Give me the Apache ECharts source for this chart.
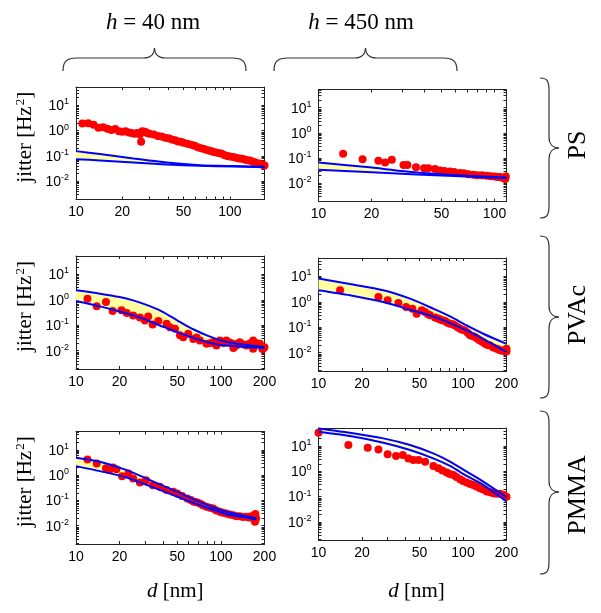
<!DOCTYPE html>
<html>
<head>
<meta charset="utf-8">
<title>jitter vs d</title>
<script src="https://cdn.jsdelivr.net/npm/echarts@6.0.0/dist/echarts.min.js"></script>
<style>
html,body{margin:0;padding:0;background:#ffffff;}
#chart{width:601px;height:613px;}
</style>
</head>
<body>
<div id="chart"></div>
<script>
// ---- tick values ----
const xTickValues = [10,20,30,40,50,60,70,80,90,100,200];
const xLabelValues = [10,20,50,100,200];
const yTickValues = [0.002,0.003,0.004,0.005,0.006,0.007,0.008,0.009,0.01,0.02,0.03,0.04,0.05,0.06,0.07,0.08,0.09,0.1,0.2,0.3,0.4,0.5,0.6,0.7,0.8,0.9,1,2,3,4,5,6,7,8,9,10,20,30,40,50];
const yLabelValues = [0.01,0.1,1,10];

// ---- PS, h = 40 nm ----
const p1DotX = [11,12,13,14,15,16,17,18,19,20,21,22,23,24,25,26,26.5,27,28,29,30,32,34,36,38,40,42,44,46,48,50,53,56,59,62,65,68,71,74,77,80,84,88,92,96,100,105,110,115,120,125,130,135,140,145,150,155,160,165,168];
const p1DotY = [1.9,1.95,1.7,1.3,1.35,1.2,1.05,1.15,0.95,0.9,0.95,0.85,0.8,0.75,0.8,0.7,0.36,0.95,0.9,0.8,0.75,0.7,0.62,0.58,0.52,0.5,0.45,0.42,0.37,0.36,0.33,0.3,0.28,0.25,0.22,0.2,0.19,0.17,0.16,0.15,0.14,0.13,0.125,0.11,0.1,0.095,0.09,0.085,0.08,0.077,0.072,0.068,0.066,0.06,0.056,0.052,0.05,0.047,0.044,0.042];
const p1BandX = [10,14.3,23.6,38.8,63.8,105,168];
const p1UpY = [0.155,0.119,0.080,0.055,0.0433,0.0397,0.0373];
const p1LowY = [0.0748,0.066,0.055,0.046,0.0407,0.0384,0.036];

// ---- PS, h = 450 nm ----
const p2DotX = [13.8,17.8,21.9,23.9,26.1,30.4,32,35.8,39.8,42.1,45.9,49,52,55.8,59,63.7,67,71,75.9,80,85,90.4,95,100,104,107,110,113,115,116];
const p2DotY = [0.148,0.091,0.078,0.067,0.086,0.054,0.054,0.043,0.040,0.040,0.037,0.032,0.031,0.0295,0.028,0.0256,0.025,0.023,0.0219,0.021,0.021,0.020,0.019,0.0185,0.018,0.0178,0.017,0.016,0.015,0.0185];
const p2BandX = [10,18.8,36.1,69.5,117];
const p2UpY = [0.067,0.044,0.0271,0.020,0.0172];
const p2LowY = [0.0345,0.0279,0.0225,0.0188,0.0161];

// ---- PVAc, h = 40 nm ----
const p3DotX = [12,13.9,16.1,17.9,20.6,22.4,24.8,27.6,29.9,31.5,33.8,37,42.2,44.5,48.2,52.2,55,59.5,64.5,71.6,79.6,88.5,93.3,98.4,104,109,115,122,128,135,142,150,158,167,175,186,193,200,122,167,195,68,85];
const p3DotY = [1.11,0.553,0.82,0.36,0.385,0.30,0.244,0.20,0.155,0.223,0.108,0.146,0.115,0.084,0.072,0.040,0.034,0.046,0.029,0.025,0.0186,0.0215,0.0159,0.025,0.02,0.025,0.021,0.0186,0.016,0.0215,0.018,0.016,0.019,0.025,0.02,0.0186,0.012,0.0137,0.0128,0.012,0.0115,0.033,0.02];
const p3BandX = [10,14.6,20,24.8,30,37.9,45,55,65,80,100,130,160,200];
const p3UpY = [2.37,1.75,1.29,0.955,0.66,0.385,0.223,0.114,0.068,0.040,0.025,0.0186,0.016,0.0137];
const p3LowY = [0.90,0.553,0.35,0.244,0.17,0.098,0.068,0.0436,0.0316,0.0219,0.0166,0.0148,0.0137,0.0128];

// ---- PVAc, h = 450 nm ----
const p4DotX = [14.1,26,30.1,35.7,40.4,44.6,47.8,51.8,54.6,57,59.1,64,67,69.3,72,75,78,81.3,85,88,92,95.3,99,103,108,112,116,121,126,131,136,142,148,154,162,171,178,185,192,200,200];
const p4DotY = [2.85,1.55,1.15,0.90,0.63,0.54,0.34,0.47,0.40,0.33,0.295,0.24,0.22,0.20,0.19,0.178,0.15,0.138,0.13,0.118,0.1,0.087,0.08,0.075,0.06,0.048,0.045,0.041,0.035,0.030,0.027,0.0223,0.02,0.019,0.016,0.0141,0.013,0.012,0.012,0.0112,0.0141];
const p4BandX = [10,16.5,28.1,43,62.2,81.3,106,138,200];
const p4UpY = [8.26,5.0,2.85,1.33,0.54,0.267,0.118,0.0556,0.0223];
const p4LowY = [2.85,1.81,0.98,0.49,0.267,0.146,0.0748,0.035,0.0105];

// ---- PMMA, h = 40 nm ----
const p5DotX = [12,13.9,16.1,17,18,19,20.8,23,24.8,27.6,30.4,33.9,37.9,42.2,46.9,50,54,58.6,62,65,68,71.6,75,79.5,84,88.5,93,98.4,103,109,115,122,128,135,142,150,156,162,168,172,175,173];
const p5DotY = [4.17,2.9,1.89,1.6,2.0,1.7,0.91,1.16,0.74,0.51,0.63,0.40,0.35,0.26,0.22,0.19,0.15,0.12,0.105,0.088,0.085,0.076,0.065,0.056,0.052,0.048,0.04,0.0355,0.033,0.0305,0.028,0.026,0.024,0.024,0.022,0.0225,0.021,0.024,0.02,0.0144,0.0194,0.029];
const p5BandX = [10,14.6,22.4,32.4,46.9,71.6,109,150,176];
const p5UpY = [4.83,3.36,1.58,0.634,0.255,0.088,0.0355,0.024,0.0194];
const p5LowY = [2.27,1.44,0.81,0.367,0.162,0.065,0.0287,0.0212,0.0177];

// ---- PMMA, h = 450 nm ----
const p6DotX = [10,16.1,21.9,26,30.1,34.4,38.3,41.9,45.4,49.2,54.7,62.4,67.6,72,77.2,81,85.9,90,95.5,100,106,112,118,124,131,138,146,154,162,170,180,190,200];
const p6DotY = [34,11.1,8.7,7.5,4.8,4.1,4.5,3.3,2.85,2.85,2.45,1.65,1.33,1.1,0.90,0.8,0.73,0.6,0.49,0.42,0.36,0.32,0.29,0.25,0.216,0.19,0.16,0.15,0.137,0.13,0.129,0.12,0.10];
const p6BandX = [10,16.5,28.1,43,62.2,81.3,106,138,200];
const p6UpY = [51,34.4,20.5,11.2,5.2,2.45,0.985,0.396,0.095];
const p6LowY = [37.6,25.3,13.8,7.08,3.3,1.65,0.66,0.292,0.0645];

const SANS = '"Liberation Sans", Arial, Helvetica, sans-serif';
const SERIF = '"Liberation Serif", "Times New Roman", serif';

function zip(xs, ys) {
  const n = Math.min(xs.length, ys.length);
  const out = [];
  for (let i = 0; i < n; i++) out.push([xs[i], ys[i]]);
  return out;
}
function zip3(xs, a, b) {
  const n = Math.min(xs.length, a.length, b.length);
  const out = [];
  for (let i = 0; i < n; i++) out.push([xs[i], a[i], b[i]]);
  return out;
}

const panels = [
  {grid:{left:76, top:87, width:188.5, height:112.5}, xmax:168, dx:p1DotX, dy:p1DotY, bx:p1BandX, up:p1UpY, lo:p1LowY, yName:true, xName:false},
  {grid:{left:318.5, top:89.5, width:188, height:112}, xmax:117, dx:p2DotX, dy:p2DotY, bx:p2BandX, up:p2UpY, lo:p2LowY, yName:false, xName:false},
  {grid:{left:76, top:256, width:188.5, height:113}, xmax:200, dx:p3DotX, dy:p3DotY, bx:p3BandX, up:p3UpY, lo:p3LowY, yName:true, xName:false},
  {grid:{left:318.5, top:258, width:188, height:113}, xmax:200, dx:p4DotX, dy:p4DotY, bx:p4BandX, up:p4UpY, lo:p4LowY, yName:false, xName:false},
  {grid:{left:76, top:431.5, width:188.5, height:112.5}, xmax:200, dx:p5DotX, dy:p5DotY, bx:p5BandX, up:p5UpY, lo:p5LowY, yName:true, xName:true, xPad:10, xGap:37},
  {grid:{left:318.5, top:428, width:188, height:112}, xmax:200, dx:p6DotX, dy:p6DotY, bx:p6BandX, up:p6UpY, lo:p6LowY, yName:false, xName:true, xPad:8, xGap:41}
];

const YMIN = 0.0019, YMAX = 53;
const AX = '#222222';
const BAND_FILL = '#ffffa0';

const grids = [], xAxes = [], yAxes = [], series = [];

function renderBand(params, api) {
  if (params.dataIndexInside !== 0) return null;
  const n = params.dataInsideLength;
  const pts = [];
  for (let k = 0; k < n; k++) pts.push(api.coord([api.value(0, k), api.value(1, k)]));
  for (let k = n - 1; k >= 0; k--) pts.push(api.coord([api.value(0, k), api.value(2, k)]));
  return {type:'polygon', shape:{points:pts}, style:{fill:BAND_FILL, stroke:null}, silent:true};
}

panels.forEach((p, i) => {
  grids.push(Object.assign({show:false}, p.grid));
  const tick = {show:true, inside:true, length:3, lineStyle:{color:AX, width:1}};
  const line = {show:true, onZero:false, lineStyle:{color:AX, width:1}};
  xAxes.push({
    type:'log', logBase:10, gridIndex:i, position:'bottom', min:10, max:p.xmax,
    axisLine:line,
    axisTick:Object.assign({customValues:xTickValues}, tick),
    axisLabel:{show:true, customValues:xLabelValues, formatter:(v)=>String(Math.round(v)), color:'#000', fontSize:14, fontFamily:SANS, margin:6},
    splitLine:{show:false}, minorTick:{show:false},
    name: p.xName ? '{i|d} {r|[nm]}' : '',
    nameLocation:'middle', nameGap: p.xGap || 40,
    nameTextStyle:{color:'#000', fontSize:21, fontFamily:SERIF, padding:[0,0,0,p.xPad||0],
      rich:{i:{fontStyle:'italic', fontSize:21, fontFamily:SERIF, color:'#000'}, r:{fontSize:21, fontFamily:SERIF, color:'#000'}}}
  });
  xAxes.push({
    type:'log', logBase:10, gridIndex:i, position:'top', min:10, max:p.xmax,
    axisLine:line,
    axisTick:Object.assign({customValues:xTickValues}, tick),
    axisLabel:{show:false}, splitLine:{show:false}
  });
  yAxes.push({
    type:'log', logBase:10, gridIndex:i, position:'left', min:YMIN, max:YMAX,
    axisLine:line,
    axisTick:Object.assign({customValues:yTickValues}, tick),
    axisLabel:{show:true, customValues:yLabelValues, margin:7,
      formatter:(v)=>'{b|10}{e|' + Math.round(Math.log10(v)) + '}',
      rich:{
        b:{fontSize:14, fontFamily:SANS, color:'#000', lineHeight:16, verticalAlign:'bottom'},
        e:{fontSize:9, fontFamily:SANS, color:'#000', lineHeight:10, verticalAlign:'bottom', padding:[0,0,7,0]}
      }},
    splitLine:{show:false},
    name: p.yName ? '{a|jitter [Hz}{s|2}{a|]}' : '',
    nameLocation:'middle', nameRotate:90, nameGap:40,
    nameTextStyle:{color:'#000', fontSize:21, fontFamily:SERIF, padding:[0,0,0,12],
      rich:{a:{fontSize:21, fontFamily:SERIF, color:'#000', lineHeight:22, verticalAlign:'bottom'},
            s:{fontSize:13, fontFamily:SERIF, color:'#000', lineHeight:13, verticalAlign:'bottom', padding:[0,0,9,1]}}}
  });
  yAxes.push({
    type:'log', logBase:10, gridIndex:i, position:'right', min:YMIN, max:YMAX,
    axisLine:line,
    axisTick:Object.assign({customValues:yTickValues}, tick),
    axisLabel:{show:false}, splitLine:{show:false}
  });

  const xi = 2 * i, yi = 2 * i;
  // yellow model band between the two bounds
  series.push({type:'custom', xAxisIndex:xi, yAxisIndex:yi, coordinateSystem:'cartesian2d',
    data:zip3(p.bx, p.up, p.lo), encode:{x:0, y:[1,2]}, renderItem:renderBand,
    z:1, silent:true, animation:false});
  // measured points
  series.push({type:'scatter', xAxisIndex:xi, yAxisIndex:yi, data:zip(p.dx, p.dy), symbol:'circle', symbolSize:8,
    itemStyle:{color:'#ff0000', opacity:1}, z:2, silent:true, animation:false});
  // model bounds
  const base = {type:'line', xAxisIndex:xi, yAxisIndex:yi, symbol:'none', smooth:0.25, silent:true, animation:false, z:3};
  series.push(Object.assign({}, base, {data:zip(p.bx, p.up), lineStyle:{color:'#0000ff', width:2}}));
  series.push(Object.assign({}, base, {data:zip(p.bx, p.lo), lineStyle:{color:'#0000ff', width:2}}));
});

const braceStyle = {fill:null, stroke:'#333333', lineWidth:1.2};
function curve(a, c1, c2, b) {
  return {type:'bezierCurve', shape:{x1:a[0], y1:a[1], cpx1:c1[0], cpy1:c1[1], cpx2:c2[0], cpy2:c2[1], x2:b[0], y2:b[1]}, style:braceStyle, silent:true};
}
function seg(a, b) {
  return {type:'line', shape:{x1:a[0], y1:a[1], x2:b[0], y2:b[1]}, style:braceStyle, silent:true};
}
function hBrace(x0, x1) {
  const xm = (x0 + x1) / 2;
  return [
    curve([x0,71],[x0,62],[x0+3,58],[x0+14,58]),
    seg([x0+14,58],[xm-11,58]),
    curve([xm-11,58],[xm-4,58],[xm,54],[xm,48]),
    curve([xm,48],[xm,54],[xm+4,58],[xm+11,58]),
    seg([xm+11,58],[x1-14,58]),
    curve([x1-14,58],[x1-3,58],[x1,62],[x1,71])
  ];
}
function vBrace(y0, y1, ym) {
  const x0 = 540, xl = 549, xt = 559;
  return [
    curve([x0,y0],[xl-2,y0],[xl,y0+3],[xl,y0+12]),
    seg([xl,y0+12],[xl,ym-11]),
    curve([xl,ym-11],[xl,ym-4],[xl+4,ym],[xt,ym]),
    curve([xt,ym],[xl+4,ym],[xl,ym+4],[xl,ym+11]),
    seg([xl,ym+11],[xl,y1-12]),
    curve([xl,y1-12],[xl,y1-3],[xl-2,y1],[x0,y1])
  ];
}
const titleRich = {i:{fontStyle:'italic', fontSize:23, fontFamily:SERIF, fill:'#000'}};

const graphic = [].concat(
  [
    {type:'text', x:153, y:23, silent:true, style:{text:'{i|h} = 40 nm', rich:titleRich, fontSize:23, fontFamily:SERIF, fill:'#000', align:'center', verticalAlign:'middle'}},
    {type:'text', x:361, y:23, silent:true, style:{text:'{i|h} = 450 nm', rich:titleRich, fontSize:23, fontFamily:SERIF, fill:'#000', align:'center', verticalAlign:'middle'}},
    {type:'text', x:578, y:145, rotation:Math.PI/2, silent:true, style:{text:'PS', fontSize:26, fontFamily:SERIF, fill:'#000', align:'center', verticalAlign:'middle'}},
    {type:'text', x:578, y:315, rotation:Math.PI/2, silent:true, style:{text:'PVAc', fontSize:26, fontFamily:SERIF, fill:'#000', align:'center', verticalAlign:'middle'}},
    {type:'text', x:578, y:495, rotation:Math.PI/2, silent:true, style:{text:'PMMA', fontSize:26, fontFamily:SERIF, fill:'#000', align:'center', verticalAlign:'middle'}}
  ],
  hBrace(63, 246), hBrace(274, 457),
  vBrace(78, 218, 148), vBrace(236, 398, 317), vBrace(411, 574, 492)
);

const chart = echarts.init(document.getElementById('chart'), null, {renderer:'canvas'});
chart.setOption({
  backgroundColor:'#ffffff',
  animation:false,
  grid:grids,
  xAxis:xAxes,
  yAxis:yAxes,
  series:series,
  graphic:graphic
});
</script>
</body>
</html>
